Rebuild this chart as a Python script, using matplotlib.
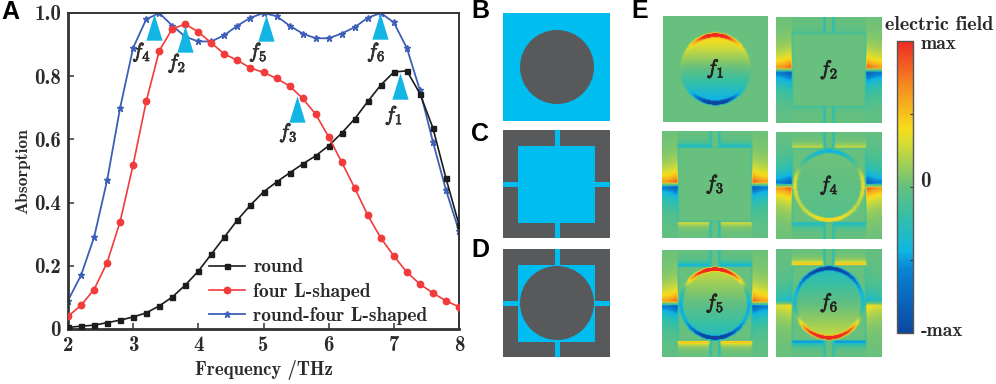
import numpy as np
import matplotlib as mpl
mpl.use("Agg")
from matplotlib import pyplot as plt
from matplotlib import patheffects as pe
from matplotlib.colors import LinearSegmentedColormap, Normalize
from matplotlib.patches import Circle, Rectangle

mpl.rcParams["mathtext.fontset"] = "cm"
mpl.rcParams["axes.unicode_minus"] = False

# panel A
freq = [2.0, 2.2, 2.4, 2.6, 2.8, 3.0, 3.2, 3.4, 3.6, 3.8, 4.0, 4.2, 4.4, 4.6, 4.8, 5.0,
        5.2, 5.4, 5.6, 5.8, 6.0, 6.2, 6.4, 6.6, 6.8, 7.0, 7.2, 7.4, 7.6, 7.8, 8.0]
round_abs = [.005, .009, .012, .020, .028, .038, .051, .073, .101, .139, .183, .237, .291, .345, .392, .434,
             .465, .494, .522, .548, .580, .620, .665, .720, .772, .813, .817, .745, .636, .477, .330]
lshape_abs = [.040, .075, .125, .210, .340, .520, .720, .880, .950, .965, .940, .905, .870, .850, .826, .812,
              .793, .769, .730, .680, .608, .528, .446, .360, .288, .231, .180, .142, .114, .089, .070]
both_abs = [.090, .170, .290, .470, .700, .890, .980, 1.00, .960, .925, .910, .910, .930, .960, .985, 1.00,
            .990, .960, .935, .920, .920, .935, .955, .985, 1.00, .970, .889, .756, .592, .440, .310]
series_names = ["round", "four L-shaped", "round-four L-shaped"]
x_ticks = [2, 3, 4, 5, 6, 7, 8]
y_ticks = [0, 0.2, 0.4, 0.6, 0.8, 1.0]
y_tick_labels = ["0", "0.2", "0.4", "0.6", "0.8", "1.0"]

peak_names = ["f_1", "f_2", "f_3", "f_4", "f_5", "f_6"]
peak_freq = [7.09, 3.795, 5.51, 3.32, 5.04, 6.79]
peak_abs = [.77, .918, .696, .956, .954, .959]
peak_label_freq = [7.0, 3.67, 5.38, 3.13, 4.92, 6.73]
peak_label_abs = [.675, .84, .62, .875, .875, .875]

# panel E, amplitudes for f1..f6
side_above = [0, 1.0, 1.0, -.95, .95, -.45]
side_below = [0, -1.0, -.95, 1.0, -.95, .5]
frame_top = [0, -.1, -.5, .4, -.65, .85]
frame_bottom = [0, -.1, .45, -.5, .85, -.85]
rim_top = [.95, 0, 0, -.5, 1.0, -.95]
rim_bottom = [-.85, 0, 0, .5, -1.0, 1.0]
rim_side = [0, 0, 0, .35, -.45, -.35]
rim_power = [7, 2, 2, 2, 3, 2]
disc_tilt = [.5, 0, 0, .05, .3, -.3]
has_disc = [True, False, False, True, True, True]
has_frame = [False, True, True, True, True, True]

cb_nodes = [0, .22, .28, .40, .50, .65, .70, .85, 1]
cb_colors = ["#0b47a0", "#0a84d4", "#10b6e2", "#35bfa6", "#66c07e", "#d6dc34", "#f7dc1c", "#f58a20", "#ee2a24"]
field_cmap = LinearSegmentedColormap.from_list("field", list(zip(cb_nodes, cb_colors)))


def field_panel(i, n=107):
    y, x = np.mgrid[0:n, 0:n] / (n - 1)
    z = np.zeros((n, n))
    wing = (x < .15) | (x > .85)
    edge = np.where(x < .5, x / .15, (1 - x) / .15)
    if has_frame[i]:
        # field in the side gaps, above and below the slit
        up = wing & (y < .485)
        dn = wing & (y > .515)
        fall = .7 + .3 * edge ** 2
        z[up] = (side_above[i] * np.exp(-(.485 - y) / .13) * fall)[up]
        z[dn] = (side_below[i] * np.exp(-(y - .515) / .13) * fall)[dn]
        band = (x > .15) & (x < .85)
        gap = np.abs(x - .5) > .05
        z[band & (y < .15) & gap] = (frame_top[i] * np.exp(-(.15 - y) / .03))[band & (y < .15) & gap]
        z[band & (y > .85) & gap] = (frame_bottom[i] * np.exp(-(y - .85) / .03))[band & (y > .85) & gap]
        # outline of the square and the thin slits
        z[((np.abs(x - .15) < .006) | (np.abs(x - .85) < .006)) & (y > .15) & (y < .85) & (z == 0)] = -.2
        z[((np.abs(y - .15) < .006) | (np.abs(y - .85) < .006)) & band & (z == 0)] = -.2
        z[((np.abs(x - .46) < .008) | (np.abs(x - .54) < .008)) & ((y < .15) | (y > .85))] = -.3
    if has_disc[i]:
        dx, dy = x - .5, y - .5
        r = np.hypot(dx, dy)
        R = .335
        s = dy / np.maximum(r, 1e-6)
        c = dx / np.maximum(r, 1e-6)
        z[r < R] = (-disc_tilt[i] * dy / R - .02)[r < R]
        rim = (r > R - .028) & (r < R + .006)
        top = np.clip(-s, 0, 1) ** rim_power[i]
        bot = np.clip(s, 0, 1) ** rim_power[i]
        z[rim] = (rim_top[i] * top + rim_bottom[i] * bot + rim_side[i] * c ** 6 - disc_tilt[i] * s)[rim]
    # small blur, the source picture is soft
    z = (z + np.roll(z, 1, 0) + np.roll(z, -1, 0) + np.roll(z, 1, 1) + np.roll(z, -1, 1)) / 5
    return z


fig = plt.figure(figsize=(9.96, 3.84), dpi=100)
W, H = 996.0, 384.0
heavy = [pe.withStroke(linewidth=.5, foreground="#222222")]


def px_axes(x0, y0, x1, y1):
    return fig.add_axes([x0 / W, 1 - y1 / H, (x1 - x0) / W, (y1 - y0) / H])


# panel A
ax = px_axes(68, 13, 459, 329)
ax.plot(freq, round_abs, "-s", color="#1c1c1c", lw=1.2, ms=3.6, label=series_names[0], zorder=3)
ax.plot(freq, both_abs, "-*", color="#3d5fb8", lw=1.3, ms=4.5, label=series_names[2], zorder=2)
ax.plot(freq, lshape_abs, "-o", color="#f23b3b", lw=1.2, ms=4.6, label=series_names[1], zorder=4)
tri = [(-8, -13), (8, -13), (0, 13)]
ax.plot(peak_freq, peak_abs, ls="none", marker=tri, ms=19, color="#12b5e3", mew=0, zorder=5)
for name, fx, fy in zip(peak_names, peak_label_freq, peak_label_abs):
    ax.text(fx, fy, "$" + name + "$", fontsize=15, color="#333333", ha="center", va="center", zorder=6,
            path_effects=heavy)
ax.set_xlim(2, 8)
ax.set_ylim(0, 1)
ax.set_xticks(x_ticks)
ax.set_yticks(y_ticks)
ax.set_yticklabels(y_tick_labels)
ax.tick_params(direction="in", length=4, width=1.1, color="#333333", labelsize=15, labelcolor="#2a2a2a", pad=5)
for lab in ax.get_xticklabels() + ax.get_yticklabels():
    lab.set_family("cmb10")
for side, sp in ax.spines.items():
    sp.set_linewidth(2 if side in ("left", "bottom") else 1.4)
    sp.set_color("#333333")
ax.set_xlabel("Frequency /THz", family="cmb10", fontsize=13.5, color="#2a2a2a", labelpad=4)
ax.set_ylabel("Absorption", family="cmb10", fontsize=12.5, color="#2a2a2a", labelpad=3)
handles, labels = ax.get_legend_handles_labels()
order = [0, 2, 1]
leg = ax.legend([handles[k] for k in order], [labels[k] for k in order], loc="lower left",
                bbox_to_anchor=(.355, .007), frameon=False, labelspacing=.32,
                handlelength=1.85, handletextpad=.45, borderpad=.1, borderaxespad=0,
                prop={"family": "cmb10", "size": 14})
for t in leg.get_texts():
    t.set_color("#2a2a2a")

# overlay in picture pixels for the schematics and the field maps
ov = fig.add_axes([0, 0, 1, 1], zorder=-1)
ov.set_xlim(0, W)
ov.set_ylim(H, 0)
ov.axis("off")

cyan = "#00bdf0"
grey = "#58595b"
cx = 557

# B
ov.add_patch(Rectangle((503, 13), 107, 108, color=cyan, lw=0))
ov.add_patch(Circle((cx, 67), 37, color=grey, lw=0))

# C and D
for top, disc in [(130, False), (249, True)]:
    cy = top + 54
    ov.add_patch(Rectangle((503, top), 107, 108, color=grey, lw=0))
    ov.add_patch(Rectangle((cx - 2.5, top), 5, 108, color=cyan, lw=0))
    ov.add_patch(Rectangle((503, cy - 2.5), 107, 5, color=cyan, lw=0))
    ov.add_patch(Rectangle((518, cy - 38.5), 77, 77, color=cyan, lw=0))
    if disc:
        ov.add_patch(Circle((cx, cy), 37, color=grey, lw=0))

# E
boxes = [(663, 16, 768, 122), (776, 17, 882, 123), (662, 131, 768, 238),
         (776, 132, 882, 239), (662, 250, 768, 357), (776, 249, 882, 357)]
for i, (x0, y0, x1, y1) in enumerate(boxes):
    ov.imshow(field_panel(i), cmap=field_cmap, vmin=-1, vmax=1, extent=(x0, x1, y1, y0),
              interpolation="bilinear", aspect="auto", zorder=1)
    ov.text((x0 + x1) / 2, (y0 + y1) / 2, "$" + peak_names[i] + "$", fontsize=15,
            color="#222222", ha="center", va="center", zorder=3, path_effects=heavy)
ov.set_xlim(0, W)
ov.set_ylim(H, 0)

cax = px_axes(897, 41, 913, 333)
cb = mpl.colorbar.ColorbarBase(cax, cmap=field_cmap, norm=Normalize(-1, 1), orientation="vertical")
cb.set_ticks([-1, -.5, 0, .5, 1])
cb.set_ticklabels([])
cax.tick_params(direction="in", length=2, width=.8, color="#333333")
cb.outline.set_edgecolor("#555555")
cb.outline.set_linewidth(1.0)

for s, tx, ty, fs in [("electric field", 939, 25, 14.5), ("max", 939, 44, 14), ("0", 925, 182, 15), ("-max", 942, 331, 14)]:
    fig.text(tx / W, 1 - ty / H, s, family="cmb10", fontsize=fs, color="#2a2a2a", ha="center", va="center")

# panel letters
for s, tx, ty in [("A", 10, 12), ("B", 480, 11), ("C", 480, 134), ("D", 480, 250), ("E", 640, 11)]:
    fig.text(tx / W, 1 - ty / H, s, family="Liberation Sans", fontweight="bold", fontsize=18, color="black",
             ha="center", va="center")

fig.savefig("out.png", dpi=100)
